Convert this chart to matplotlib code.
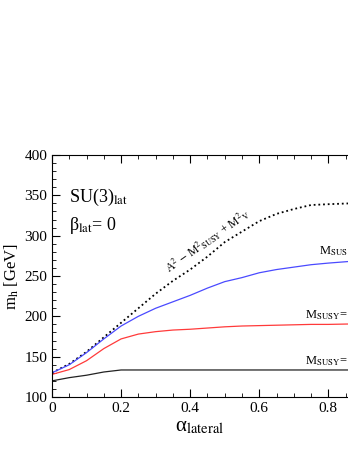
import matplotlib
matplotlib.use("Agg")
import matplotlib.pyplot as plt
from matplotlib.ticker import MultipleLocator

plt.rcParams["font.family"] = ["Liberation Serif", "DejaVu Serif"]
plt.rcParams["mathtext.fontset"] = "stix"

# alpha_lateral
alpha = [0, 0.05, 0.1, 0.15, 0.2, 0.25, 0.3, 0.35, 0.4, 0.45, 0.5, 0.55, 0.6, 0.65, 0.7, 0.75, 0.8, 0.86]
# m_h [GeV]
m_blue = [130, 140, 155, 172, 188, 200, 210, 218, 226, 235, 243, 248, 254, 258, 261, 264, 266, 268]
m_red = [128, 134, 145, 160, 172, 178, 181, 183, 184, 185.5, 187, 188, 188.5, 189, 189.5, 190, 190, 190.5]
m_black = [120, 124, 127, 131, 133.5, 133.5, 133.5, 133.5, 133.5, 133.5, 133.5, 133.5, 133.5, 133.5, 133.5, 133.5, 133.5, 133.5]
m_dot = [130, 141, 156, 174, 192, 210, 228, 244, 258, 274, 292, 305, 318, 327, 333, 338, 339, 340]

fig = plt.figure(figsize=(3.48, 4.5), dpi=100)
ax = fig.add_axes([52/348, 53/450, 296/348, 242/450])

ax.plot(alpha, m_dot, color="black", lw=1.3, ls=(0, (1, 1.6)))
ax.plot(alpha, m_blue, color="#4a4aff", lw=0.9)
ax.plot(alpha, m_red, color="#ff3a3a", lw=0.9)
ax.plot(alpha, m_black, color="#222222", lw=0.9)

ax.set_xlim(0, 0.857)
ax.set_ylim(100, 400)
ax.spines["right"].set_visible(False)
ax.xaxis.set_major_locator(MultipleLocator(0.2))
ax.xaxis.set_minor_locator(MultipleLocator(0.05))
ax.yaxis.set_major_locator(MultipleLocator(50))
ax.yaxis.set_minor_locator(MultipleLocator(10))
ax.tick_params(which="both", direction="in", top=True, right=False, labelsize=11)
ax.tick_params(which="major", length=6, width=0.8)
ax.tick_params(which="minor", length=3, width=0.6)
ax.set_xticks([0, 0.2, 0.4, 0.6, 0.8])
ax.set_xticklabels(["0", "0.2", "0.4", "0.6", "0.8"])

ax.set_ylabel(r"m$_{\rm h}$ [GeV]", fontsize=12, labelpad=2)
ax.set_xlabel(r"α$_{\rm lateral}$", fontsize=15, labelpad=2)

ax.text(0.05, 348, r"SU(3)$_{\rm lat}$", fontsize=13, va="center")
ax.text(0.05, 313, r"β$_{\rm lat}$= 0", fontsize=13, va="center")

ax.text(0.345, 250, r"A$^2$ $-$ M$^2$$_{\rm SUSY}$ + M$^2$$_{\rm V}$", fontsize=8.5,
        rotation=35, rotation_mode="anchor", ha="left", va="bottom")
ax.text(0.857, 272, r"M$_{\rm SUS}$", fontsize=9, ha="right", va="bottom")
ax.text(0.857, 193, r"M$_{\rm SUSY}$=", fontsize=9, ha="right", va="bottom")
ax.text(0.857, 136, r"M$_{\rm SUSY}$=", fontsize=9, ha="right", va="bottom")

fig.savefig("out.png", dpi=100)
